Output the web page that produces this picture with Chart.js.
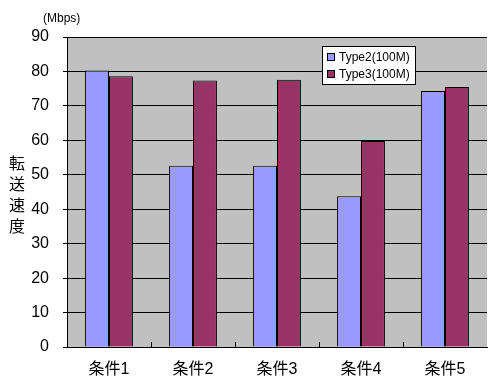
<!DOCTYPE html>
<html>
<head>
<meta charset="utf-8">
<script src="https://cdn.jsdelivr.net/npm/chart.js@4"></script>
<style>
  html, body { margin: 0; padding: 0; background: #fff; }
  #wrap { width: 489px; height: 379px; position: relative; }
</style>
</head>
<body>
<div id="wrap"><canvas id="speedChart"></canvas></div>
<script>
// chart data
const categories = ['条件1', '条件2', '条件3', '条件4', '条件5'];
const type2Values = [80.3, 52.6, 52.6, 43.8, 74.3];
const type3Values = [78.6, 77.4, 77.6, 59.8, 75.5];
const seriesLabels = ['Type2(100M)', 'Type3(100M)'];
const yTicks = [0, 10, 20, 30, 40, 50, 60, 70, 80, 90];
const yTitleChars = ['転', '送', '速', '度'];
const unitLabel = '(Mbps)';

const fontFamily = "'Liberation Sans', Arial, 'Noto Sans CJK JP', sans-serif";

// gray plot background, inner category ticks, axis title, legend box
const decorPlugin = {
    id: 'decor',
    beforeDraw(chart) {
        const { ctx, chartArea } = chart;
        ctx.save();
        ctx.fillStyle = '#C0C0C0';
        ctx.fillRect(chartArea.left, chartArea.top, chartArea.right - chartArea.left, chartArea.bottom - chartArea.top);
        ctx.restore();
    },
    afterDraw(chart) {
        const { ctx, chartArea } = chart;
        const xScale = chart.scales.x;
        ctx.save();

        // small ticks between categories, inside the plot
        ctx.strokeStyle = '#000';
        ctx.lineWidth = 1;
        for (let i = 0; i < categories.length - 1; i++) {
            const x = Math.round((xScale.getPixelForValue(i) + xScale.getPixelForValue(i + 1)) / 2) + 0.5;
            ctx.beginPath();
            ctx.moveTo(x, chartArea.bottom);
            ctx.lineTo(x, chartArea.bottom - 5);
            ctx.stroke();
        }

        // unit label and vertical axis title
        ctx.fillStyle = '#000';
        ctx.font = "12px " + fontFamily;
        ctx.textAlign = 'left';
        ctx.textBaseline = 'middle';
        ctx.fillText(unitLabel, 43, 19);

        ctx.font = "16px 'Noto Sans CJK JP', sans-serif";
        ctx.textAlign = 'center';
        yTitleChars.forEach((ch, i) => {
            ctx.fillText(ch, 17, 163 + i * 21);
        });

        // legend
        const lx = 322, ly = 46, lw = 93, lh = 38;
        ctx.fillStyle = '#fff';
        ctx.fillRect(lx, ly, lw, lh);
        ctx.strokeStyle = '#000';
        ctx.strokeRect(lx + 0.5, ly + 0.5, lw, lh);
        ctx.font = "12px " + fontFamily;
        ctx.textAlign = 'left';
        chart.data.datasets.forEach((ds, i) => {
            const cy = ly + 11 + i * 17;
            ctx.fillStyle = ds.backgroundColor;
            ctx.fillRect(lx + 5, cy - 4, 8, 8);
            ctx.strokeStyle = '#000';
            ctx.strokeRect(lx + 5.5, cy - 3.5, 7, 7);
            ctx.fillStyle = '#000';
            ctx.fillText(ds.label, lx + 17, cy + 1);
        });
        ctx.restore();
    }
};

new Chart(document.getElementById('speedChart'), {
    type: 'bar',
    data: {
        labels: categories,
        datasets: [
            {
                label: seriesLabels[0],
                data: type2Values,
                backgroundColor: '#9999FF',
                borderColor: '#000',
                borderWidth: 1
            },
            {
                label: seriesLabels[1],
                data: type3Values,
                backgroundColor: '#993366',
                borderColor: '#000',
                borderWidth: 1
            }
        ]
    },
    options: {
        responsive: true,
        maintainAspectRatio: false,
        animation: false,
        layout: { padding: { top: 37, right: 2, left: 0, bottom: 0 } },
        categoryPercentage: 0.57,
        barPercentage: 1.0,
        plugins: {
            legend: { display: false },
            tooltip: { enabled: false }
        },
        scales: {
            x: {
                grid: { display: false },
                border: { color: '#000', width: 1 },
                ticks: {
                    color: '#000',
                    font: { family: fontFamily, size: 16 },
                    padding: 5
                },
                afterFit(scale) { scale.height = 32; }
            },
            y: {
                min: 0,
                max: 90,
                afterBuildTicks(scale) {
                    scale.ticks = yTicks.map(v => ({ value: v }));
                },
                grid: { color: '#000', lineWidth: 1, tickLength: 4 },
                border: { color: '#000', width: 1 },
                ticks: {
                    color: '#000',
                    font: { family: fontFamily, size: 16 },
                    padding: 14
                },
                afterFit(scale) { scale.width = 67; }
            }
        }
    },
    plugins: [decorPlugin]
});
</script>
</body>
</html>
